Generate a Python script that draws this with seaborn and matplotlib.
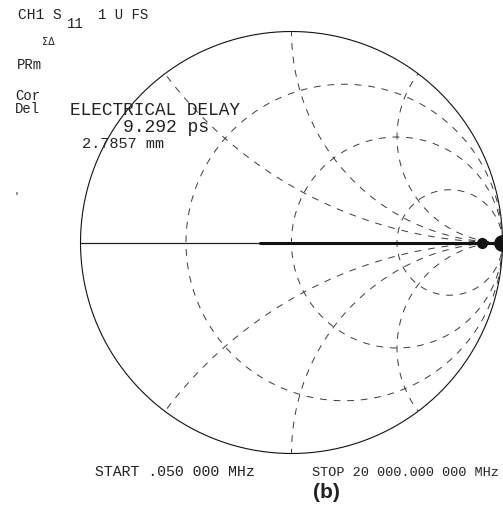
import numpy as np
import pandas as pd
import matplotlib
matplotlib.use("Agg")
import matplotlib.pyplot as plt
import seaborn as sns

# ---- data ----
resistance_circles = [1/3, 1.0, 3.0]          # constant-r grid circles
reactance_arcs = [0.5, 1.0, 2.0, -0.5, -1.0, -2.0]  # constant-x grid arcs
trace_re = [-0.147, 1.0]                       # measured S11 trace (reflection coefficient)
trace_im = [0.0, 0.0]
marker_re = [0.905, 1.0]
marker_im = [0.0, 0.0]
marker_sizes = [7, 11]

header_texts = ["CH1 S", "11", "1 U FS", "PRm", "Cor", "Del"]
delay_texts = ["ELECTRICAL DELAY", "9.292 ps", "2.7857 mm"]
sweep_texts = ["START .050 000 MHz", "STOP 20 000.000 000 MHz"]
caption = "(b)"

# ---- figure ----
sns.set_style("white")
W, H = 503, 512
CX, CY, R = 291.5, 242.5, 211.0
fig = plt.figure(figsize=(W / 100, H / 100), dpi=100)
ax = fig.add_axes([0, 0, 1, 1])
ax.set_xlim(-CX / R, (W - CX) / R)
ax.set_ylim((CY - H) / R, CY / R)
ax.set_aspect("equal")
ax.axis("off")

GRID = "#3a3a3a"
DASH = (0, (7, 7))

def draw(x, y, **kw):
    df = pd.DataFrame({"x": x, "y": y})
    sns.lineplot(data=df, x="x", y="y", sort=False, estimator=None, ax=ax, **kw)

t = np.linspace(0, 2 * np.pi, 721)
# outer unit circle
draw(np.cos(t), np.sin(t), color="#111111", lw=0.8)

# resistance circles
for r in resistance_circles:
    c, rad = r / (1 + r), 1 / (1 + r)
    draw(c + rad * np.cos(t), rad * np.sin(t), color=GRID, lw=0.7, linestyle=DASH)

# reactance arcs (portion inside the unit circle)
for xv in reactance_arcs:
    a = abs(xv)
    cx, cy, rad = 1.0, 1.0 / a, 1.0 / a
    px = (a * a - 1) / (a * a + 1)
    py = 2 * a / (a * a + 1)
    t0 = np.arctan2(py - cy, px - cx)
    if t0 > -np.pi / 2:
        t0 -= 2 * np.pi
    tt = np.linspace(-np.pi / 2, t0, 400)
    yy = cy + rad * np.sin(tt)
    draw(cx + rad * np.cos(tt), np.sign(xv) * yy, color=GRID, lw=0.7, linestyle=DASH)

# real axis (x = 0 line)
draw([-1.0, 1.0], [0.0, 0.0], color="#222222", lw=0.9)

# measured trace
draw(trace_re, trace_im, color="#111111", lw=2.2)
for mx, my, ms in zip(marker_re, marker_im, marker_sizes):
    ax.plot([mx], [my], marker="o", ms=ms, color="#111111", clip_on=False)

# ---- text ----
MONO = "Liberation Mono"
TC = "#222222"

def ptext(x, y, s, size, **kw):
    kw.setdefault("family", MONO)
    fig.text(x / W, 1 - y / H, s, fontsize=size, color=TC, ha="left", va="baseline", **kw)

ptext(18, 19, header_texts[0], 10.5)
ptext(67, 28, header_texts[1], 10)
ptext(98, 19, header_texts[2], 10)
ptext(42, 45, "ΣΔ", 7, family="DejaVu Sans")
ptext(17, 69, header_texts[3], 10)
ptext(15, 100, header_texts[4], 10)
ptext(15, 113, header_texts[5], 10)
ptext(70, 115, delay_texts[0], 12.8)
ptext(123, 132, delay_texts[1], 13)
ptext(82, 148, delay_texts[2], 11)
ptext(13, 200, "'", 7)
ptext(95, 476, sweep_texts[0], 10.7)
ptext(312, 476, sweep_texts[1], 9.7)
ptext(313, 498, caption, 15, family="Liberation Sans", fontweight="bold")

fig.savefig("out.png", dpi=100)
